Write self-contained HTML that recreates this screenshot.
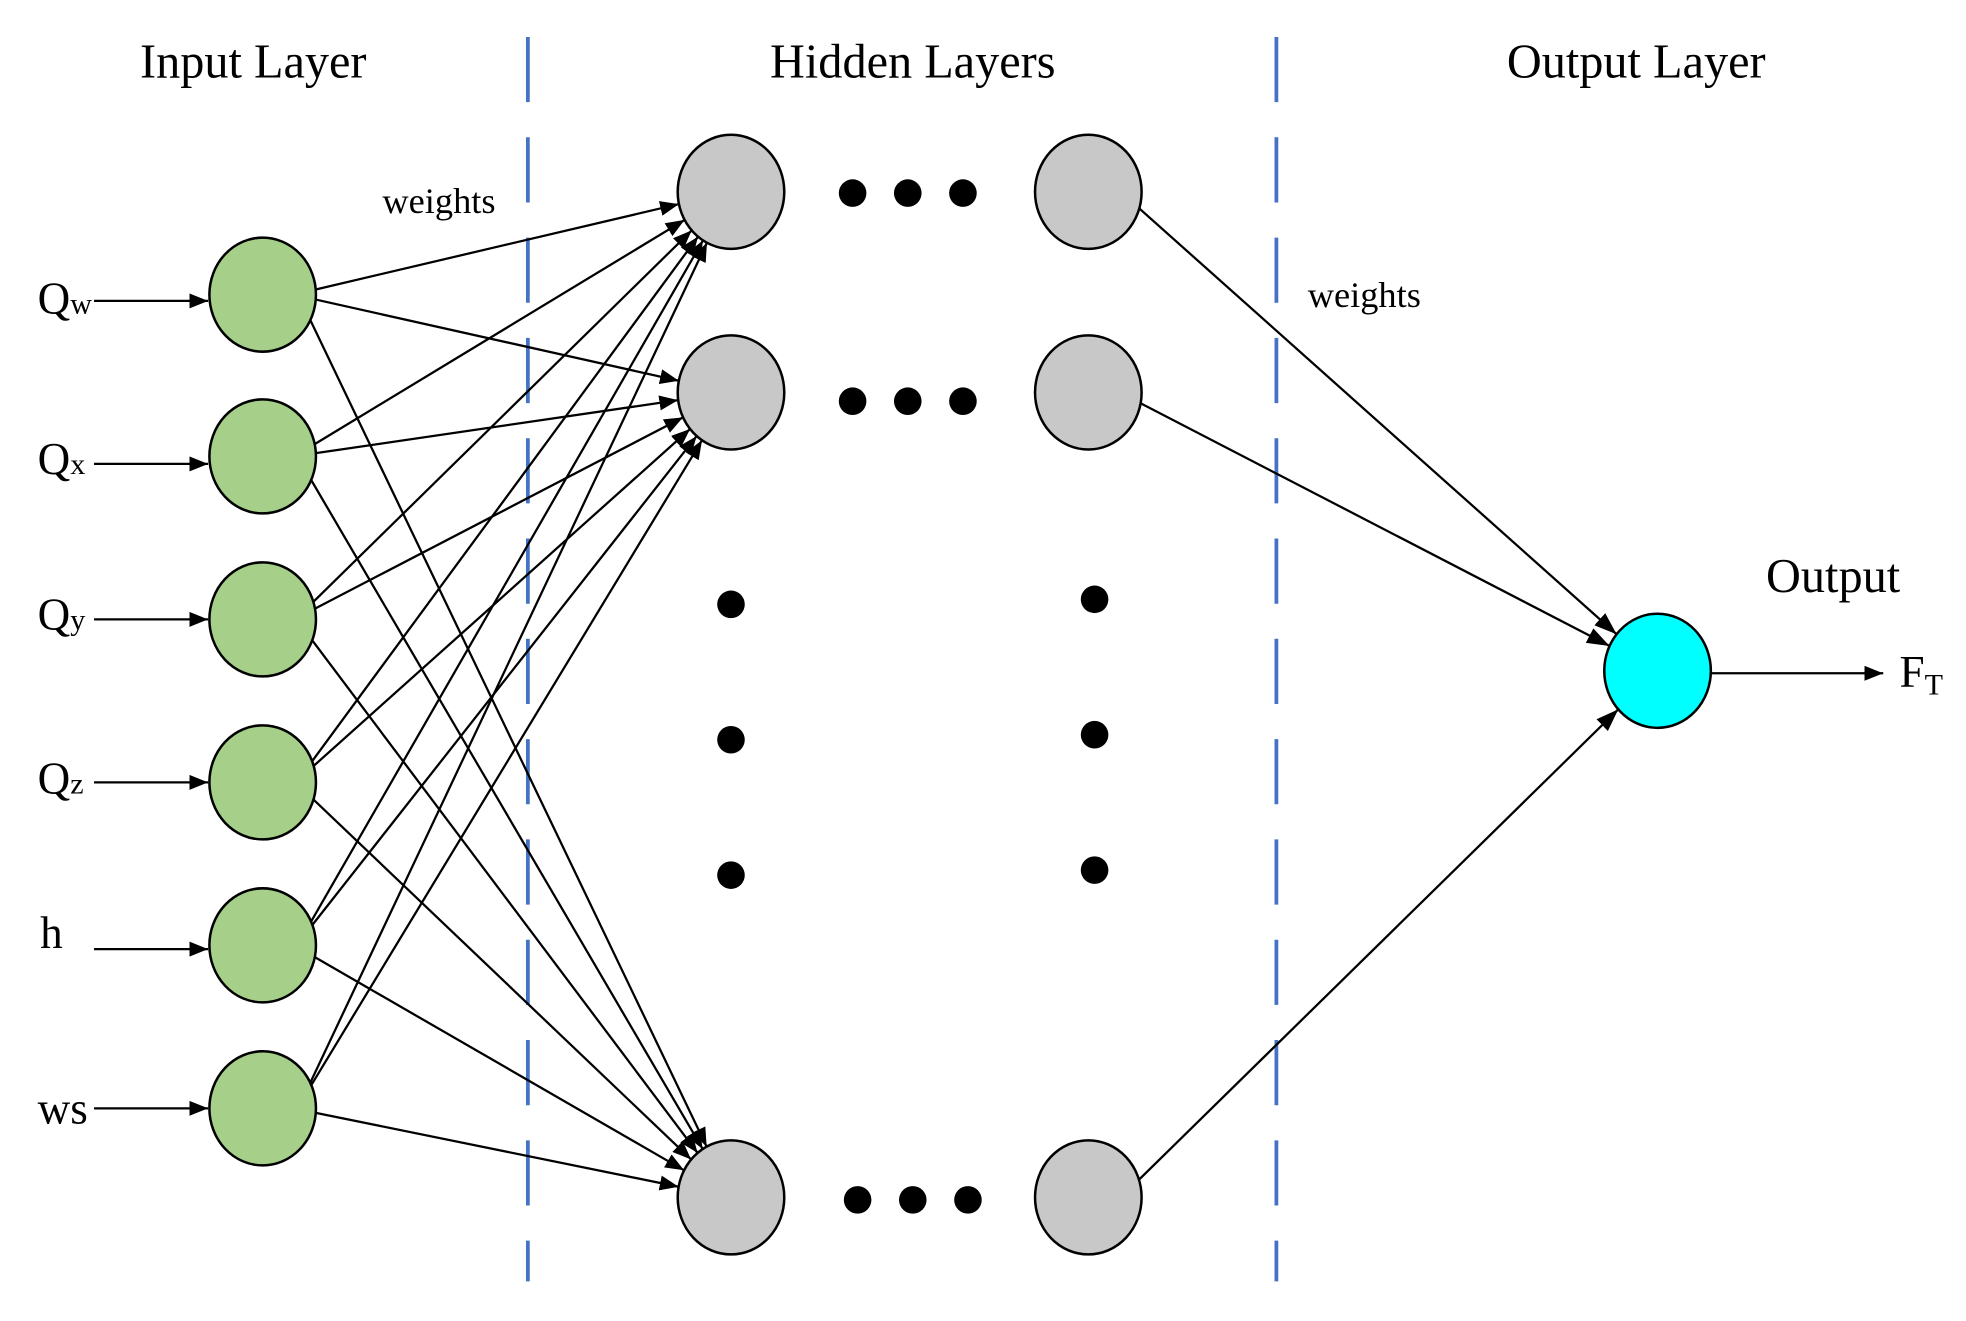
<!DOCTYPE html>
<html><head><meta charset="utf-8">
<style>html,body{margin:0;padding:0;background:#fff}svg{display:block}</style>
</head><body>
<svg id="s" width="1966" height="1321" viewBox="0 0 1568 1053.6" preserveAspectRatio="none" xmlns="http://www.w3.org/2000/svg" font-family="'Liberation Serif', serif">
<defs><marker id="a" markerWidth="15" markerHeight="12" refX="15" refY="6" orient="auto" markerUnits="userSpaceOnUse"><path d="M0,0 L15,6 L0,12 z" fill="#000"/></marker>
<marker id="b" markerWidth="18" markerHeight="13" refX="18" refY="6.5" orient="auto" markerUnits="userSpaceOnUse"><path d="M0,0 L18,6.5 L0,13 z" fill="#000"/></marker></defs>
<g stroke="#4472c4" stroke-width="3" stroke-dasharray="52,28"><line x1="421" y1="29.5" x2="421" y2="1022"/><line x1="1018" y1="29.5" x2="1018" y2="1022"/></g>
<g font-size="38.5" text-anchor="middle"><text x="202" y="62">Input Layer</text><text x="728" y="62">Hidden Layers</text><text x="1305" y="62">Output Layer</text><text x="1462" y="472">Output</text></g>
<g font-size="29"><text x="305" y="170">weights</text><text x="1043" y="245">weights</text></g>
<g font-size="36">
<text x="30" y="250">Q<tspan font-size="24">w</tspan></text>
<text x="30" y="378">Q<tspan font-size="24">x</tspan></text>
<text x="30" y="502">Q<tspan font-size="24">y</tspan></text>
<text x="30" y="633">Q<tspan font-size="24">z</tspan></text>
<text x="32" y="756">h</text>
<text x="30" y="896">ws</text>
<text x="1515" y="548">F<tspan font-size="24" dy="6">T</tspan></text>
</g>
<g id="edges" stroke="#000" stroke-width="1.8" fill="none"></g>
<g id="nodes" stroke="#000" stroke-width="2"></g>
<g fill="#000">
<circle cx="680" cy="154" r="11"/><circle cx="724" cy="154" r="11"/><circle cx="768" cy="154" r="11"/>
<circle cx="680" cy="320" r="11"/><circle cx="724" cy="320" r="11"/><circle cx="768" cy="320" r="11"/>
<circle cx="684" cy="957" r="11"/><circle cx="728" cy="957" r="11"/><circle cx="772" cy="957" r="11"/>
<circle cx="583" cy="482" r="11"/><circle cx="583" cy="590" r="11"/><circle cx="583" cy="698" r="11"/>
<circle cx="873" cy="478" r="11"/><circle cx="873" cy="586" r="11"/><circle cx="873" cy="694" r="11"/>
</g>
<script>
var NS="http://www.w3.org/2000/svg",RX=42.5,RY=45.5;
var inp=[235,364,494,624,754,884].map(function(y){return[209.5,y]});
var h1=[[583,153],[583,313],[583,955]],h2=[[868,153],[868,313],[868,955]],out=[1322,535];
var E=document.getElementById("edges"),N=document.getElementById("nodes");
function edge(x1,y1,x2,y2,m){var l=document.createElementNS(NS,"line");l.setAttribute("x1",x1);l.setAttribute("y1",y1);l.setAttribute("x2",x2);l.setAttribute("y2",y2);if(m)l.setAttribute("marker-end","url(#"+m+")");E.appendChild(l);}
function bd(c,dx,dy){var t=1/Math.sqrt(dx*dx/(RX*RX)+dy*dy/(RY*RY));return[c[0]+dx*t,c[1]+dy*t];}
function conn(p,q,m){var dx=q[0]-p[0],dy=q[1]-p[1];var ang=Math.atan2(dy,dx)*0.45;
var a=bd(p,Math.cos(ang),Math.sin(ang));var ex=q[0]-a[0],ey=q[1]-a[1];var b=bd(q,-ex,-ey);edge(a[0],a[1],b[0],b[1],m);}
inp.forEach(function(p){h1.forEach(function(q){conn(p,q,"a")});});
h2.forEach(function(p){conn(p,out,"b")});
[[235,240],[364,370],[494,494],[624,624],[754,757],[884,884]].forEach(function(v){edge(75,v[1],166,v[1],"a")});
edge(1365,537,1502,537,"a");
function node(c,f){var e=document.createElementNS(NS,"ellipse");e.setAttribute("cx",c[0]);e.setAttribute("cy",c[1]);e.setAttribute("rx",RX);e.setAttribute("ry",RY);e.setAttribute("fill",f);N.appendChild(e);}
inp.forEach(function(c){node(c,"#a6cf8a")});
h1.concat(h2).forEach(function(c){node(c,"#c8c8c8")});
node(out,"#00ffff");
</script>
</svg>
</body></html>
